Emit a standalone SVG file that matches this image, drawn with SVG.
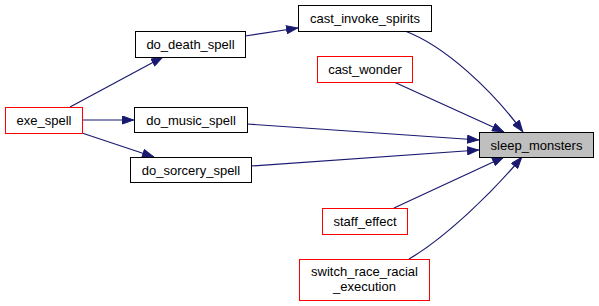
<svg xmlns="http://www.w3.org/2000/svg" width="599" height="306" viewBox="0 0 599 306">
  <style>
    .box { fill: #ffffff; stroke: #000000; stroke-width: 1; }
    .red { fill: #ffffff; stroke: #ff0000; stroke-width: 1; }
    .cur { fill: #bfbfbf; stroke: #000000; stroke-width: 1; }
    .lbl { font-family: "Liberation Sans", Arial, sans-serif; font-size: 13px; fill: #000000; text-anchor: middle; }
    .edge { fill: none; stroke: #191970; stroke-width: 1.2; marker-end: url(#arrow); }
  </style>
  <defs>
    <marker id="arrow" viewBox="0 0 12 9" refX="12" refY="4.5" markerWidth="12" markerHeight="9" markerUnits="userSpaceOnUse" orient="auto">
      <path d="M0.5,0.5 L11.5,4.5 L0.5,8.5 z" fill="#191970" stroke="#191970"/>
    </marker>
  </defs>
  <rect width="599" height="306" fill="#ffffff"/>

  <g id="connectors">
    <path class="edge" d="M70,107 L163,57"/>
    <path class="edge" d="M245,36 L298,28"/>
    <path class="edge" d="M82,120 L134,120"/>
    <path class="edge" d="M82,133 L154,157"/>
    <path class="edge" d="M247,124 L479,140"/>
    <path class="edge" d="M251,166 L479,150"/>
    <path class="edge" d="M405,31 C445,46 492,90 523,132"/>
    <path class="edge" d="M394,82 L504,132"/>
    <path class="edge" d="M394,208 L504,157"/>
    <path class="edge" d="M409,259 C445,238 492,193 522,157"/>
  </g>

  <g id="exe_spell">
    <rect class="red" x="5.5" y="107.5" width="77" height="26"/>
    <text class="lbl" x="44" y="125">exe_spell</text>
  </g>
  <g id="do_death_spell">
    <rect class="box" x="135.5" y="31.5" width="110" height="26"/>
    <text class="lbl" x="190.5" y="49">do_death_spell</text>
  </g>
  <g id="do_music_spell">
    <rect class="box" x="134.5" y="107.5" width="113" height="25"/>
    <text class="lbl" x="191" y="124.5">do_music_spell</text>
  </g>
  <g id="do_sorcery_spell">
    <rect class="box" x="130.5" y="157.5" width="121" height="25"/>
    <text class="lbl" x="191" y="174.5">do_sorcery_spell</text>
  </g>
  <g id="cast_invoke_spirits">
    <rect class="box" x="298.5" y="5.5" width="133" height="26"/>
    <text class="lbl" x="365" y="23">cast_invoke_spirits</text>
  </g>
  <g id="cast_wonder">
    <rect class="red" x="317.5" y="56.5" width="95" height="26"/>
    <text class="lbl" x="365" y="74">cast_wonder</text>
  </g>
  <g id="sleep_monsters">
    <rect class="cur" x="479.5" y="132.5" width="114" height="25"/>
    <text class="lbl" x="536.5" y="149.5">sleep_monsters</text>
  </g>
  <g id="staff_effect">
    <rect class="red" x="322.5" y="208.5" width="85" height="26"/>
    <text class="lbl" x="365" y="226">staff_effect</text>
  </g>
  <g id="switch_race_racial_execution">
    <rect class="red" x="299.5" y="259.5" width="130" height="41"/>
    <text class="lbl" x="364.5" y="276">switch_race_racial</text>
    <text class="lbl" x="364.5" y="291">_execution</text>
  </g>
</svg>
